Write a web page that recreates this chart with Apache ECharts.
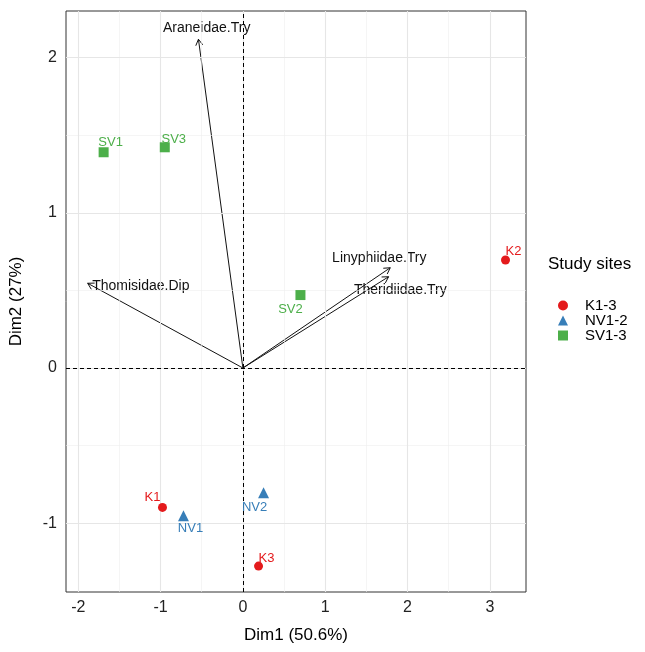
<!DOCTYPE html>
<html>
<head>
<meta charset="utf-8">
<script src="https://cdn.jsdelivr.net/npm/echarts@6/dist/echarts.min.js"></script>
<style>
  html, body { margin: 0; padding: 0; background: #fff; }
  #chart { width: 645px; height: 652px; }
</style>
</head>
<body>
<div id="chart"></div>
<script>
// site scores (Dim1, Dim2)
const kNames = ['K1', 'K2', 'K3']
const kX = [-0.977, 3.19, 0.19]
const kY = [-0.898, 0.696, -1.276]

const nvNames = ['NV1', 'NV2']
const nvX = [-0.722, 0.251]
const nvY = [-0.952, -0.803]

const svNames = ['SV1', 'SV2', 'SV3']
const svX = [-1.692, 0.699, -0.949]
const svY = [1.39, 0.47, 1.422]

// variable arrows (tip) and where their labels sit
const varNames = ['Araneidae.Try', 'Thomisidae.Dip', 'Linyphiidae.Try', 'Theridiidae.Try']
const varX = [-0.54, -1.886, 1.79, 1.77]
const varY = [2.118, 0.546, 0.646, 0.588]
const varLabelX = [-0.44, -1.24, 1.657, 1.912]
const varLabelY = [2.189, 0.528, 0.707, 0.503]

const xTicks = [-2, -1, 0, 1, 2, 3]
const yTicks = [-1, 0, 1, 2]
const xMinor = [-1.5, -0.5, 0.5, 1.5, 2.5]
const yMinor = [-0.5, 0.5, 1.5]

const groupNames = ['K1-3', 'NV1-2', 'SV1-3']

// label nudges in px (text centre minus point centre)
const labelNudge = {
  K1: [-10, -10], K2: [8, -9], K3: [8, -8],
  NV1: [7, 13], NV2: [-9, 15],
  SV1: [7, -10], SV2: [-10, 14], SV3: [9, -8]
}

const FONT = 'Arial, "Liberation Sans", sans-serif'
const RED = '#E41A1C', BLUE = '#377EB8', GREEN = '#4DAF4A'

function pts(names, xs, ys) {
  return names.map((n, i) => ({
    value: [xs[i], ys[i], n],
    label: { offset: labelNudge[n] }
  }))
}

function siteSeries(name, data, symbol, size, color) {
  return {
    name,
    type: 'scatter',
    data,
    symbol,
    symbolSize: size,
    z: 5,
    itemStyle: { color, opacity: 1 },
    label: {
      show: true,
      position: 'inside',
      formatter: p => p.value[2],
      color,
      fontSize: 13,
      fontFamily: FONT
    },
    emphasis: { disabled: true },
    animation: false
  }
}

const gridLines = []
xMinor.forEach(v => gridLines.push({ xAxis: v, lineStyle: { color: '#eeeeee', width: 0.6, type: 'solid' } }))
yMinor.forEach(v => gridLines.push({ yAxis: v, lineStyle: { color: '#eeeeee', width: 0.6, type: 'solid' } }))
xTicks.forEach(v => gridLines.push({ xAxis: v, lineStyle: { color: '#e6e6e6', width: 1.1, type: 'solid' } }))
yTicks.forEach(v => gridLines.push({ yAxis: v, lineStyle: { color: '#e6e6e6', width: 1.1, type: 'solid' } }))
gridLines.push({ xAxis: 0, lineStyle: { color: '#000', width: 1, type: [4, 3] } })
gridLines.push({ yAxis: 0, lineStyle: { color: '#000', width: 1, type: [4, 3] } })

const arrowData = varNames.map((n, i) => [varX[i], varY[i], varLabelX[i], varLabelY[i]])

function renderArrow(params, api) {
  const o = api.coord([0, 0])
  const p = api.coord([api.value(0), api.value(1)])
  const l = api.coord([api.value(2), api.value(3)])
  const a = Math.atan2(p[1] - o[1], p[0] - o[0])
  const h = 7, w = Math.PI / 6
  const h1 = [p[0] - h * Math.cos(a - w), p[1] - h * Math.sin(a - w)]
  const h2 = [p[0] - h * Math.cos(a + w), p[1] - h * Math.sin(a + w)]
  return {
    type: 'group',
    children: [
      { type: 'line', shape: { x1: o[0], y1: o[1], x2: p[0], y2: p[1] }, style: { stroke: '#111', lineWidth: 1 } },
      { type: 'polyline', shape: { points: [h1, p, h2] }, style: { stroke: '#111', lineWidth: 1, fill: null } },
      {
        type: 'text',
        x: l[0], y: l[1],
        style: {
          text: varNames[params.dataIndex],
          fill: '#111',
          font: '14px ' + FONT,
          align: 'center',
          verticalAlign: 'middle'
        }
      }
    ]
  }
}

const chart = echarts.init(document.getElementById('chart'))
chart.setOption({
  backgroundColor: '#fff',
  animation: false,
  textStyle: { fontFamily: FONT },
  grid: {
    left: 65, right: 119, top: 11, bottom: 60,
    show: true, borderColor: '#333', borderWidth: 1, backgroundColor: 'transparent'
  },
  title: {
    text: 'Study sites',
    left: 548, top: 256, padding: 0,
    textStyle: { fontSize: 17, fontWeight: 'normal', color: '#000', fontFamily: FONT }
  },
  legend: {
    orient: 'vertical',
    left: 553, top: 293,
    itemWidth: 10, itemHeight: 10, itemGap: 0,
    selectedMode: false,
    textStyle: { fontSize: 15, color: '#000', lineHeight: 14, padding: [0, 0, 0, 12], fontFamily: FONT },
    data: [
      { name: 'K1-3', icon: 'circle' },
      { name: 'NV1-2', icon: 'triangle' },
      { name: 'SV1-3', icon: 'rect' }
    ]
  },
  xAxis: {
    type: 'value',
    min: -2.149, max: 3.439,
    name: 'Dim1 (50.6%)',
    nameLocation: 'middle',
    nameGap: 35,
    nameTextStyle: { fontSize: 17, color: '#000', fontFamily: FONT },
    axisLine: { show: false },
    axisTick: { show: true, length: 4, customValues: xTicks, lineStyle: { color: '#333' } },
    axisLabel: { customValues: xTicks, fontSize: 16, color: '#222', margin: 8, fontFamily: FONT },
    splitLine: { show: false }
  },
  yAxis: {
    type: 'value',
    min: -1.443, max: 2.3,
    name: 'Dim2 (27%)',
    nameLocation: 'middle',
    nameGap: 41,
    nameTextStyle: { fontSize: 17, color: '#000', fontFamily: FONT },
    axisLine: { show: false },
    axisTick: { show: true, length: 4, customValues: yTicks, lineStyle: { color: '#333' } },
    axisLabel: { customValues: yTicks, fontSize: 16, color: '#222', margin: 9, fontFamily: FONT },
    splitLine: { show: false }
  },
  series: [
    {
      type: 'scatter',
      data: [],
      z: 1,
      silent: true,
      markLine: {
        silent: true,
        symbol: 'none',
        label: { show: false },
        animation: false,
        emphasis: { disabled: true },
        data: gridLines
      }
    },
    {
      type: 'custom',
      data: arrowData,
      z: 3,
      silent: true,
      clip: false,
      encode: { x: 0, y: 1 },
      renderItem: renderArrow
    },
    siteSeries(groupNames[0], pts(kNames, kX, kY), 'circle', 9, RED),
    siteSeries(groupNames[1], pts(nvNames, nvX, nvY), 'triangle', 11, BLUE),
    siteSeries(groupNames[2], pts(svNames, svX, svY), 'rect', 10, GREEN)
  ]
})
</script>
</body>
</html>
